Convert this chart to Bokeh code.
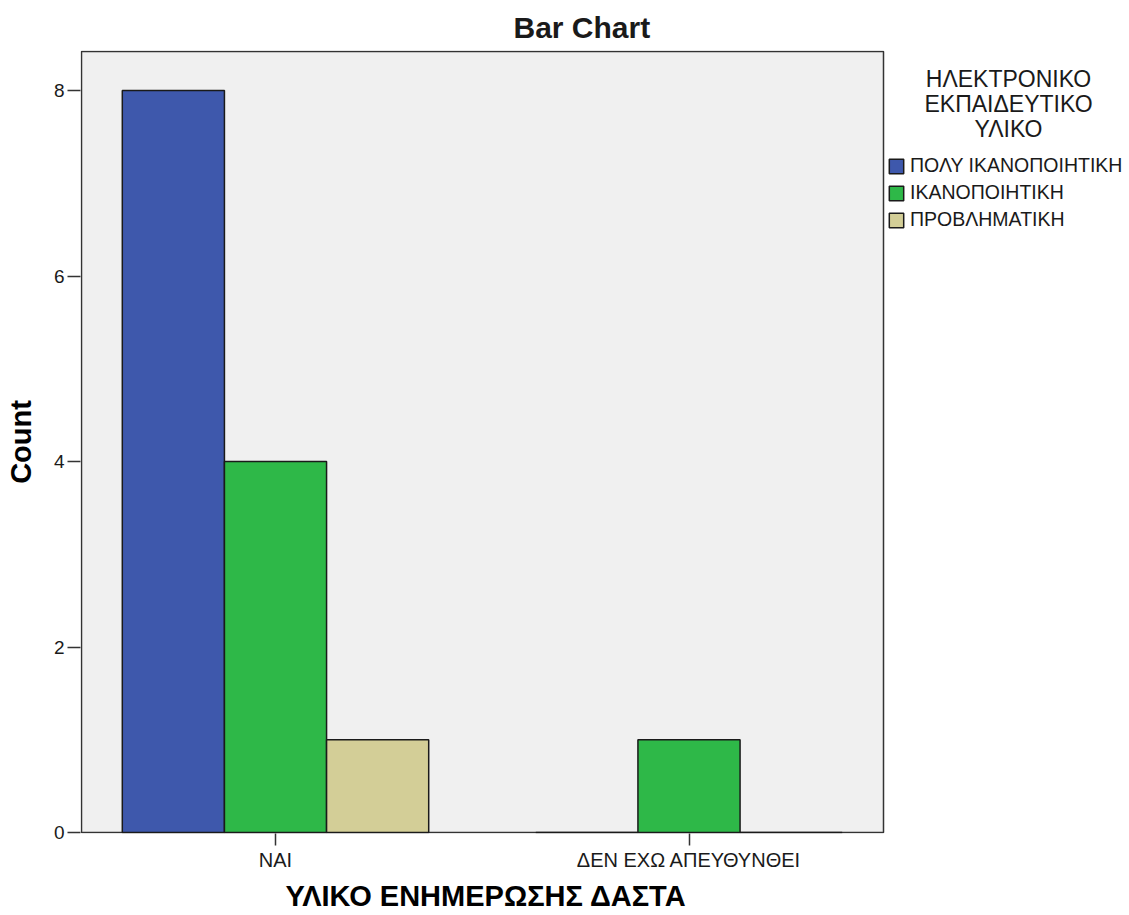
from bokeh.plotting import figure
from bokeh.models import Range1d, FixedTicker, Legend, LegendItem, Label, Title
from bokeh.embed import file_html
from bokeh.resources import INLINE

# ---- data ----
categories = ["ΝΑΙ", "ΔΕΝ ΕΧΩ ΑΠΕΥΘΥΝΘΕΙ"]
series_names = ["ΠΟΛΥ ΙΚΑΝΟΠΟΙΗΤΙΚΗ", "ΙΚΑΝΟΠΟΙΗΤΙΚΗ", "ΠΡΟΒΛΗΜΑΤΙΚΗ"]
poly_ikanopoiitiki = [8, 0]
ikanopoiitiki = [4, 1]
provlimatiki = [1, 0]
y_ticks = [0, 2, 4, 6, 8]
legend_title_lines = ["ΗΛΕΚΤΡΟΝΙΚΟ", "ΕΚΠΑΙΔΕΥΤΙΚΟ", "ΥΛΙΚΟ"]
chart_title = "Bar Chart"
x_title = "ΥΛΙΚΟ ΕΝΗΜΕΡΩΣΗΣ ΔΑΣΤΑ"
y_title = "Count"
colors = ["#3e58ac", "#2eb848", "#d3ce97"]

series_values = [poly_ikanopoiitiki, ikanopoiitiki, provlimatiki]

# ---- layout (pixels) ----
W, H = 1129, 915
FRAME_L, FRAME_T, FRAME_B = 80, 50, 833          # drawing frame (extends to right edge)
AREA_L, AREA_T, AREA_R, AREA_B = 81, 51, 883, 832  # visible grey plot area
PX_PER_CAT = 413.5
CAT0_PX = 275
PX_PER_UNIT = 92.75


def px_to_x(px):
    return (px - CAT0_PX) / PX_PER_CAT


def py_to_y(py):
    return (AREA_B - py) / PX_PER_UNIT


FONT = "Liberation Sans"
TXT = "#1a1a1a"
LINE = "#333333"

x_start, x_end = px_to_x(FRAME_L), px_to_x(W)
y_start, y_end = py_to_y(FRAME_B), py_to_y(FRAME_T)

p = figure(width=W, height=H, output_backend="svg", toolbar_location=None,
           x_range=Range1d(x_start, x_end), y_range=Range1d(y_start, y_end),
           min_border_left=FRAME_L, min_border_right=0, min_border_top=FRAME_T,
           min_border_bottom=H - FRAME_B,
           background_fill_color="white", border_fill_color="white")
p.outline_line_color = None
p.xgrid.visible = False
p.ygrid.visible = False

p.title.text = chart_title
p.title.text_font = FONT
p.title.text_font_size = "30px"
p.title.text_font_style = "bold"
p.title.text_color = TXT
p.title.align = "left"
p.title.offset = 513 - FRAME_L
p.title.standoff = 13

# grey plot area
p.quad(left=[px_to_x(AREA_L)], right=[px_to_x(AREA_R)], bottom=[py_to_y(AREA_B)],
       top=[py_to_y(AREA_T)], fill_color="#f0f0f0", line_color=LINE, line_width=1.5)

x_pos = list(range(len(categories)))
bw = 0.247
renderers = []
for i, (name, vals, col) in enumerate(zip(series_names, series_values, colors)):
    xs = [x + (i - 1) * bw for x in x_pos]
    r = p.vbar(x=xs, top=vals, width=bw, bottom=0, fill_color=col,
               line_color="#1a1a1a", line_width=1.5)
    renderers.append((name, r))

# axes
for ax in (p.xaxis, p.yaxis):
    ax.axis_line_color = None
    ax.major_tick_line_color = LINE
    ax.major_tick_line_width = 1.5
    ax.major_tick_in = 0
    ax.minor_tick_in = 0
    ax.minor_tick_out = 0
    ax.major_label_text_font = FONT
    ax.major_label_text_color = TXT
    ax.axis_label_text_font = FONT
    ax.axis_label_text_font_size = "29px"
    ax.axis_label_text_font_style = "bold"
    ax.axis_label_text_color = "black"

p.xaxis.ticker = FixedTicker(ticks=x_pos)
p.xaxis.major_label_overrides = {x: c for x, c in zip(x_pos, categories)}
p.xaxis.major_label_text_font_size = "20px"
p.xaxis.major_tick_out = 12
p.xaxis.major_label_standoff = 3

# x-axis title, centred under the grey plot area
p.add_layout(Title(text=x_title, align="left", offset=285 - FRAME_L,
                   vertical_align="bottom", standoff=8,
                   text_font=FONT, text_font_size="29px", text_font_style="bold",
                   text_color="black"), "below")

p.yaxis.ticker = FixedTicker(ticks=y_ticks)
p.yaxis.major_label_text_font_size = "19px"
p.yaxis.major_tick_out = 13
p.yaxis.major_label_standoff = 3
p.yaxis.axis_label = y_title
p.yaxis.axis_label_standoff = 14

legend = Legend(items=[LegendItem(label=n, renderers=[r]) for n, r in renderers],
                location=(887 - FRAME_L, FRAME_B - 231), orientation="vertical",
                border_line_color=None, background_fill_alpha=0,
                padding=0, margin=0, glyph_width=18, glyph_height=18,
                label_height=18, spacing=4, label_standoff=5,
                label_text_font=FONT, label_text_font_size="19.5px",
                label_text_color=TXT)
p.add_layout(legend)

title_center_px = 1008
title_rows_py = [78, 103.5, 128.5]
for line, py in zip(legend_title_lines, title_rows_py):
    p.add_layout(Label(x=px_to_x(title_center_px), y=py_to_y(py),
                       text=line, text_align="center", text_baseline="middle",
                       text_font=FONT, text_font_size="23px", text_color=TXT))

open("out.html", "w").write(file_html(p, INLINE))
